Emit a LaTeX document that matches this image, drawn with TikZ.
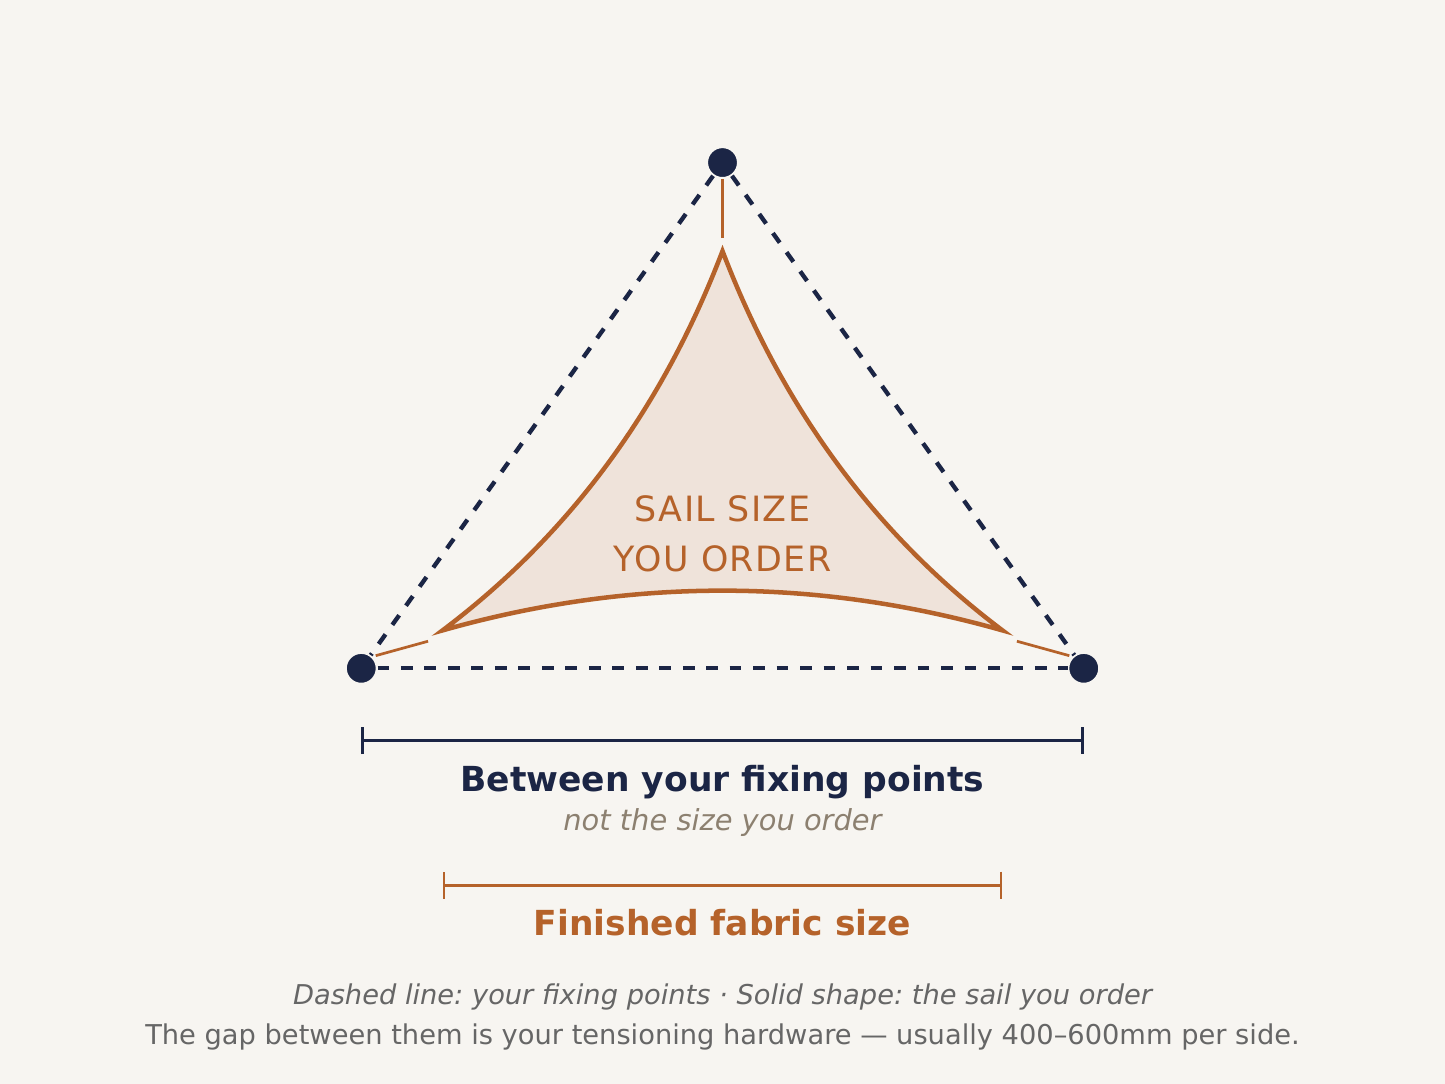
\documentclass[tikz,border=0pt]{standalone}
\usepackage{fontspec}
\setmainfont{DejaVu Sans}[BoldFont={DejaVu Sans Bold}, ItalicFont={DejaVu Sans Oblique}]
\newfontfamily\spacedfont{DejaVu Sans}[LetterSpace=4]
\usetikzlibrary{calc}
\usetikzlibrary{arrows.meta}
\frenchspacing

\definecolor{navy}{HTML}{1B2545}
\definecolor{rust}{HTML}{B5622A}
\definecolor{sailfill}{HTML}{EFE3DA}
\definecolor{paper}{HTML}{F7F5F1}
\definecolor{notegray}{HTML}{666666}
\definecolor{subgray}{HTML}{8C8070}

\tikzset{
  fixpt/.style={circle, fill=navy, draw=paper, line width=1pt, minimum size=17pt, inner sep=0pt},
  fixline/.style={navy, line width=2.4pt, dash pattern=on 6.5pt off 6.5pt},
  tie/.style={rust, line width=1.5pt},
  txt/.style={anchor=base, inner sep=0pt},
}

\begin{document}
\begin{tikzpicture}[x=1pt, y=-1pt]

  \fill[paper] (0,0) rectangle (800,600);
  \useasboundingbox (0,0) rectangle (800,600);

  % sail corners and bulge controls
  \coordinate (s-top) at (400,139);
  \coordinate (s-left) at (245,349);
  \coordinate (s-right) at (555,349);
  \coordinate (c-left) at (350,270);
  \coordinate (c-right) at (450,270);
  \coordinate (c-foot) at (400,305);

  % sail you order
  \draw[rust, fill=sailfill, line width=2.5pt]
  (s-top) .. controls ($(s-top)!.6667!(c-left)$) and ($(s-left)!.6667!(c-left)$) .. (s-left)
  .. controls ($(s-left)!.6667!(c-foot)$) and ($(s-right)!.6667!(c-foot)$) .. (s-right)
  .. controls ($(s-right)!.6667!(c-right)$) and ($(s-top)!.6667!(c-right)$) .. (s-top)
  -- cycle;

  \node[txt, rust, font=\spacedfont\fontsize{19.3}{22}\selectfont] (sail-1) at (400,288.5) {SAIL SIZE};
  \node[txt, rust, font=\spacedfont\fontsize{19.3}{22}\selectfont] (sail-2) at (400,316.5) {YOU ORDER};

  % fixing points
  \node[fixpt] (p-top) at (400,90) {};
  \node[fixpt] (p-left) at (200,370) {};
  \node[fixpt] (p-right) at (600,370) {};

  % dashed span between fixing points
  \draw[fixline] (p-top) -- (p-left);
  \draw[fixline] (p-top) -- (p-right);
  \draw[fixline] (p-left) -- (p-right);

  % tensioning hardware
  \coordinate (t-top) at (400,132);
  \coordinate (t-l1) at (208,363);
  \coordinate (t-l2) at (237,355);
  \coordinate (t-r1) at (563,355);
  \coordinate (t-r2) at (592,363);
  \draw[tie] (p-top) -- (t-top);
  \draw[tie] (t-l1) -- (t-l2);
  \draw[tie] (t-r1) -- (t-r2);

  % span dimension
  \coordinate (d-a) at (200,410);
  \coordinate (d-b) at (600,410);
  \draw[navy, line width=1.6pt, {Bar[width=15pt]}-{Bar[width=15pt]}] (d-a) -- (d-b);
  \node[txt, navy, font=\bfseries\fontsize{19.1}{22}\selectfont] (span-lbl) at (400,438) {Between your fixing points};
  \node[txt, subgray, font=\itshape\fontsize{16}{18}\selectfont] (span-sub) at (400,460) {not the size you order};

  % fabric dimension
  \coordinate (f-a) at (245,490);
  \coordinate (f-b) at (555,490);
  \draw[rust, line width=1.6pt, {Bar[width=15pt]}-{Bar[width=15pt]}] (f-a) -- (f-b);
  \node[txt, rust, font=\bfseries\fontsize{19.1}{22}\selectfont] (fabric-lbl) at (400,518) {Finished fabric size};

  % notes
  \node[txt, notegray, font=\itshape\fontsize{15.1}{17}\selectfont] (note-1) at (400,556) {Dashed line: your fixing points · Solid shape: the sail you order};
  \node[txt, notegray, font=\fontsize{15.1}{17}\selectfont] (note-2) at (400,578) {The gap between them is your tensioning hardware — usually 400–600mm per side.};

\end{tikzpicture}
\end{document}
